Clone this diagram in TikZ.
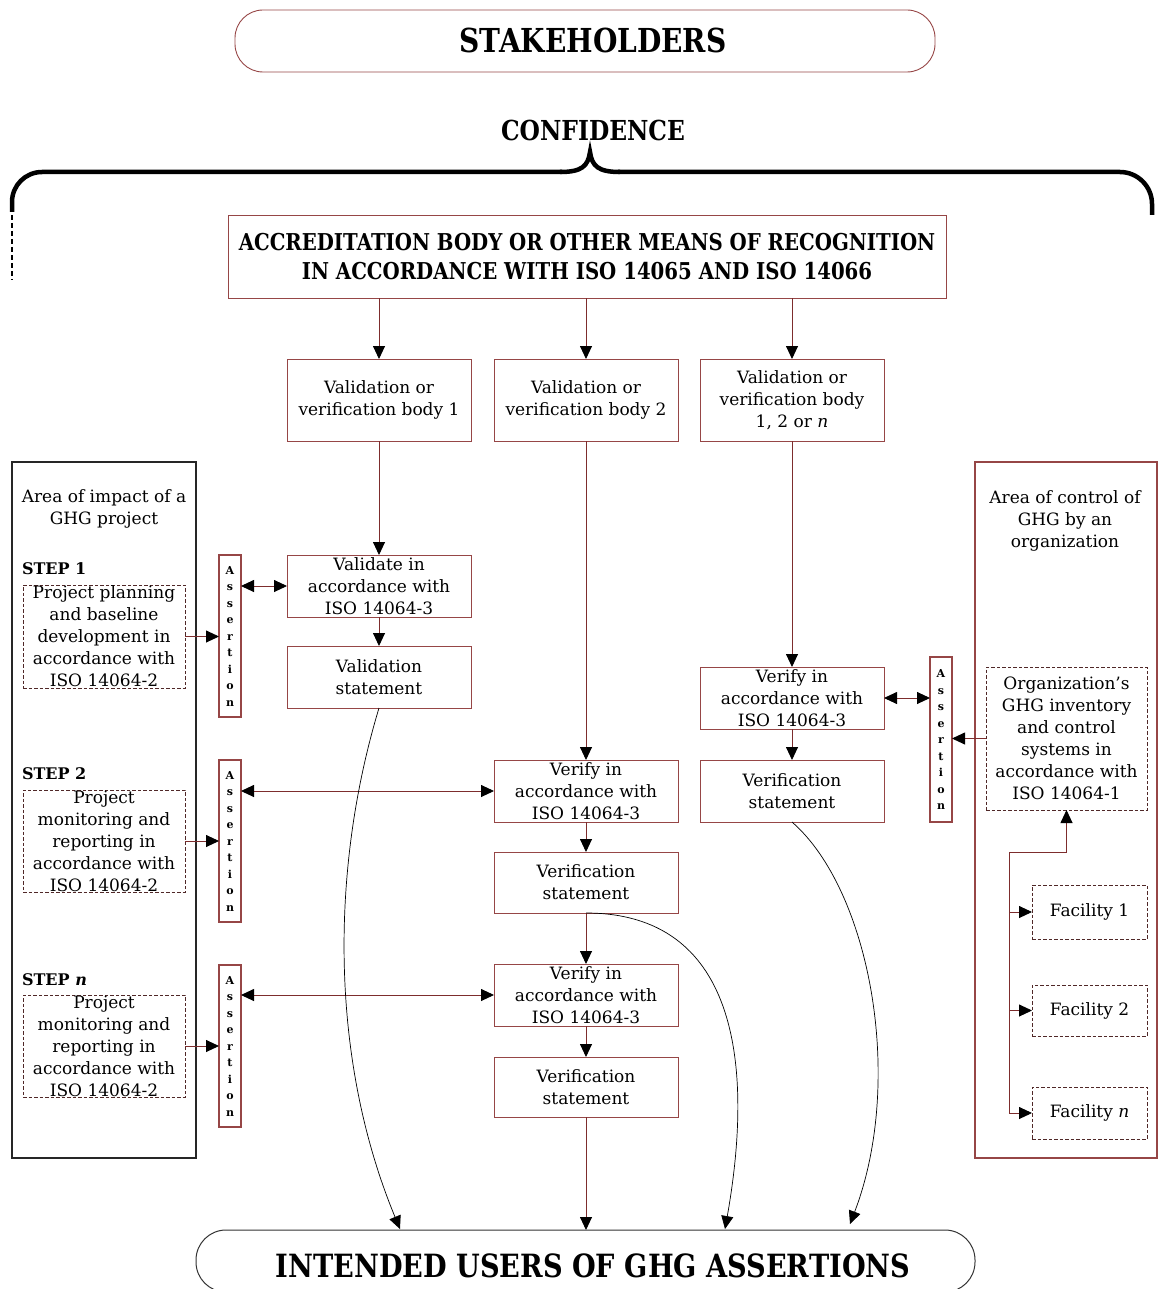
\documentclass[tikz,border=0pt]{standalone}
\usepackage{fontspec}
\setmainfont{DejaVu Serif}
\newfontfamily\hdr[FakeStretch=0.85]{DejaVu Serif}
\usetikzlibrary{arrows.meta}
\definecolor{bred}{RGB}{150,70,70}
\definecolor{lnc}{RGB}{125,45,45}
\definecolor{dsh}{RGB}{80,40,40}
\begin{document}
\begin{tikzpicture}[x=1pt,y=-1pt,
 every node/.style={inner sep=0pt, outer sep=0pt},
 body/.style={font=\fontsize{17}{22}\selectfont, align=center},
 bx/.style={body, draw=bred, line width=1pt, minimum width=184pt, minimum height=62pt},
 dbx/.style={body, draw=dsh, line width=0.9pt, dash pattern=on 3.5pt off 2pt, minimum width=162pt},
 asb/.style={draw=bred, line width=1.1pt, minimum width=22pt, minimum height=162pt, align=center, font=\bfseries\fontsize{11}{16.5}\selectfont},
 >={Triangle[length=13pt,width=12pt,color=black]},
 ar/.style={draw=lnc, line width=0.9pt, ->},
 dar/.style={draw=lnc, line width=0.9pt, <->},
 crv/.style={draw=black, line width=0.7pt, ->},
 brc/.style={draw=black, line width=4.5pt},
 stepl/.style={anchor=west, font=\bfseries\fontsize{16}{18}\selectfont}
]
\useasboundingbox (0,0) rectangle (1157,1289);

% top
\draw[draw=bred, line width=0.9pt, rounded corners=28pt] (235,10) rectangle (935,72);
\node[font=\hdr\bfseries\fontsize{33}{40}\selectfont] (stake) at (593,40) {STAKEHOLDERS};
\node[font=\hdr\bfseries\fontsize{27.5}{33}\selectfont] (conf) at (593,130) {CONFIDENCE};

% brace
\draw[brc, rounded corners=30pt] (12,212) -- (12,172) -- (562,172);
\draw[brc] (560,172) .. controls (582,172) and (588,166) .. (590,152) .. controls (592,166) and (598,172) .. (620,172);
\draw[brc, rounded corners=32pt] (618,172) -- (1152,172) -- (1152,215);
\draw[line width=2pt, dash pattern=on 5pt off 3pt] (12,215) -- (12,280);

% accreditation
\node[draw=bred, line width=1pt, minimum width=718pt, minimum height=82pt, align=center,
  font=\hdr\bfseries\fontsize{23.2}{29}\selectfont] (acc) at (587,257)
  {ACCREDITATION BODY OR OTHER MEANS OF RECOGNITION\\IN ACCORDANCE WITH ISO 14065 AND ISO 14066};

\node[bx, minimum height=82pt] (vb1) at (379,400) {Validation or\\verification body 1};
\node[bx, minimum height=82pt] (vb2) at (586,400) {Validation or\\verification body 2};
\node[bx, minimum height=82pt] (vb3) at (792,400) {Validation or\\verification body\\1, 2 or \textit{n}};

\draw[ar] (acc.south -| vb1) -- (vb1.north);
\draw[ar] (acc.south -| vb2) -- (vb2.north);
\draw[ar] (acc.south -| vb3) -- (vb3.north);

% left area
\node[draw=black!85, line width=1.3pt, minimum width=184pt, minimum height=696pt] (lbox) at (104,810) {};
\node[body] (ltxt) at (104,509) {Area of impact of a\\GHG project};

\node[stepl] (s1) at (22,569) {STEP 1};
\node[dbx, minimum height=103pt] (pd1) at (104,636.5) {Project planning\\and baseline\\development in\\accordance with\\ISO 14064-2};
\node[asb] (as1) at (230,636) {A\\s\\s\\e\\r\\t\\i\\o\\n};
\node[bx] (val) at (379,586) {Validate in\\accordance with\\ISO 14064-3};
\node[bx] (vst) at (379,677) {Validation\\statement};

\node[stepl] (s2) at (22,774) {STEP 2};
\node[dbx, minimum height=102pt] (pd2) at (104,841) {Project\\monitoring and\\reporting in\\accordance with\\ISO 14064-2};
\node[asb] (as2) at (230,841) {A\\s\\s\\e\\r\\t\\i\\o\\n};
\node[bx] (ver2) at (586,791) {Verify in\\accordance with\\ISO 14064-3};
\node[bx, minimum height=61pt] (st2) at (586,882.5) {Verification\\statement};

\node[stepl] (s3) at (22,980) {STEP \textit{n}};
\node[dbx, minimum height=102pt] (pd3) at (104,1046) {Project\\monitoring and\\reporting in\\accordance with\\ISO 14064-2};
\node[asb] (as3) at (230,1046) {A\\s\\s\\e\\r\\t\\i\\o\\n};
\node[bx] (ver3) at (586,995) {Verify in\\accordance with\\ISO 14064-3};
\node[bx, minimum height=60pt] (st3) at (586,1087) {Verification\\statement};

% left connectors
\draw[ar] (vb1.south) -- (val.north);
\draw[ar] (val.south) -- (vst.north);
\draw[ar] (pd1.east) -- (pd1.east -| as1.west);
\draw[dar] (val.west -| as1.east) -- (val.west);

\draw[ar] (vb2.south) -- (ver2.north);
\draw[ar] (ver2.south) -- (st2.north);
\draw[ar] (st2.south) -- (ver3.north);
\draw[ar] (ver3.south) -- (st3.north);
\draw[ar] (pd2.east) -- (pd2.east -| as2.west);
\draw[dar] (ver2.west -| as2.east) -- (ver2.west);
\draw[ar] (pd3.east) -- (pd3.east -| as3.west);
\draw[dar] (ver3.west -| as3.east) -- (ver3.west);

% right area
\node[draw=bred, line width=1.1pt, minimum width=182pt, minimum height=696pt] (rbox) at (1066,810) {};
\node[body] (rtxt) at (1065,521) {Area of control of\\GHG by an\\organization};
\node[dbx, minimum width=161pt, minimum height=143pt] (org) at (1066.5,738.5) {Organization’s\\GHG inventory\\and control\\systems in\\accordance with\\ISO 14064-1};
\node[asb, minimum height=165pt] (asR) at (941,739.5) {A\\s\\s\\e\\r\\t\\i\\o\\n};
\node[bx] (verR) at (792,698) {Verify in\\accordance with\\ISO 14064-3};
\node[bx] (stR) at (792,791) {Verification\\statement};

\node[dbx, minimum width=115pt, minimum height=54pt] (fac1) at (1089.5,912) {Facility 1};
\node[dbx, minimum width=115pt, minimum height=51pt] (fac2) at (1089.5,1010.5) {Facility 2};
\node[dbx, minimum width=115pt, minimum height=52pt] (fac3) at (1089.5,1113) {Facility \textit{n}};

\draw[ar] (vb3.south) -- (verR.north);
\draw[ar] (verR.south) -- (stR.north);
\draw[dar] (verR.east) -- (verR.east -| asR.west);
\draw[ar] (org.west) -- (org.west -| asR.east);

\coordinate (fb) at (1009,852);
\draw[ar] (fac3.west -| fb) -- (fb) -| (org.south);
\draw[ar] (fac1.west -| fb) -- (fac1.west);
\draw[ar] (fac2.west -| fb) -- (fac2.west);
\draw[ar] (fac3.west -| fb) -- (fac3.west);

% bottom
\node[draw=black!80, line width=1pt, rounded corners=30pt, minimum width=779pt, minimum height=62pt] (users) at (585.5,1261) {};
\node[font=\hdr\bfseries\fontsize{32}{38}\selectfont] (utxt) at (593,1266) {INTENDED USERS OF GHG ASSERTIONS};

\coordinate (u1) at (400,1229);
\coordinate (u3) at (725,1229);
\coordinate (u4) at (850,1224);
\draw[ar] (st3.south) -- (st3.south |- users.north);
\draw[crv] (vst.south) .. controls (330,870) and (330,1060) .. (u1);
\draw[crv] (st2.south) .. controls (735,913) and (755,1060) .. (u3);
\draw[crv] (stR.south) .. controls (870,890) and (905,1080) .. (u4);
\end{tikzpicture}
\end{document}
